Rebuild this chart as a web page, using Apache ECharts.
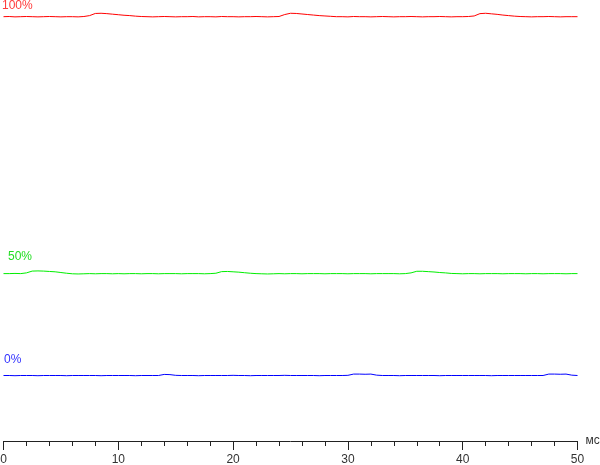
<!DOCTYPE html>
<html>
<head>
<meta charset="utf-8">
<script src="https://cdn.jsdelivr.net/npm/echarts@6/dist/echarts.min.js"></script>
<style>html,body{margin:0;padding:0;background:#fff}#c{width:600px;height:465px}</style>
</head>
<body>
<div id="c"></div>
<script>
// time axis in ms, step 0.5
const timeMs = [];
for (let i = 0; i <= 100; i++) timeMs.push(i * 0.5);

const xTicks = [0, 10, 20, 30, 40, 50];
const seriesNames = ['100%', '50%', '0%'];

// relative level (0% line = 0, 100% line = 100)
const red100 = [
 100.0,100.05,99.95,100.0,100.05,100.0,99.95,100.0,100.05,100.0,99.95,100.0,100.0,99.95,100.05,100.3,
 100.9,100.95,100.85,100.7,100.55,100.4,100.3,100.15,100.05,100.0,99.95,100.0,100.05,100.0,99.95,100.0,
 100.0,100.05,99.95,100.0,100.0,99.95,100.05,100.0,100.0,99.95,100.0,100.0,100.05,100.0,99.95,100.0,
 100.05,100.6,100.95,100.9,100.75,100.6,100.45,100.3,100.2,100.1,100.0,100.0,99.95,100.05,100.0,100.0,
 99.95,100.0,100.05,100.0,99.95,100.0,100.0,100.05,100.0,99.95,100.0,100.0,100.05,100.0,99.95,100.0,
 100.0,100.05,100.2,100.85,100.95,100.8,100.65,100.45,100.3,100.15,100.05,100.0,99.95,100.0,100.0,100.05,
 100.0,99.95,100.0,100.0,100.0
];
const green50 = [
 28.4,28.4,28.45,28.4,28.6,29.1,29.15,29.1,29.0,28.9,28.7,28.5,28.35,28.3,28.35,28.4,
 28.35,28.4,28.4,28.35,28.4,28.35,28.4,28.4,28.35,28.4,28.4,28.35,28.4,28.4,28.4,28.35,
 28.4,28.4,28.4,28.35,28.4,28.5,28.95,29.0,28.9,28.8,28.65,28.5,28.4,28.35,28.3,28.35,
 28.4,28.35,28.4,28.4,28.35,28.4,28.4,28.4,28.35,28.4,28.4,28.4,28.35,28.4,28.4,28.4,
 28.35,28.4,28.4,28.4,28.4,28.35,28.4,28.6,29.05,29.05,28.95,28.85,28.7,28.6,28.45,28.4,
 28.35,28.4,28.4,28.35,28.4,28.4,28.4,28.35,28.4,28.4,28.4,28.35,28.4,28.4,28.35,28.4,
 28.4,28.4,28.35,28.4,28.4
];
const blue0 = [
 0.0,0.0,-0.05,0.0,0.0,0.0,-0.05,0.0,0.0,0.0,0.0,-0.05,0.0,0.0,0.0,0.0,
 0.0,-0.05,0.0,0.0,0.0,0.0,0.0,-0.05,0.0,0.0,0.0,0.0,0.3,0.25,0.05,0.0,
 0.0,0.0,-0.05,0.0,0.0,0.0,0.0,0.0,0.05,0.0,0.0,-0.05,0.0,0.0,0.0,0.0,
 0.0,0.05,0.0,0.0,0.0,0.0,0.0,-0.05,0.0,0.0,0.0,0.0,0.05,0.4,0.4,0.35,
 0.4,0.1,0.0,0.0,0.0,-0.05,0.0,0.0,0.0,0.0,0.0,0.0,-0.05,0.0,0.0,0.0,
 0.0,0.0,0.0,0.0,0.0,-0.05,0.0,0.0,0.0,0.0,0.0,0.0,0.0,0.0,0.0,0.4,
 0.4,0.35,0.4,0.1,0.0
];

const pair = arr => timeMs.map((t, i) => [t, arr[i]]);
const font = 'Liberation Sans, Arial, sans-serif';

const chart = echarts.init(document.getElementById('c'), null, {renderer: 'canvas'});
chart.setOption({
  animation: false,
  backgroundColor: '#fff',
  grid: {left: 3.5, right: 22.5, top: 0, bottom: 24, containLabel: false, outerBoundsMode: 'none'},
  xAxis: {
    type: 'value', min: xTicks[0], max: xTicks[xTicks.length - 1], interval: 10,
    name: 'мс', nameLocation: 'end', nameGap: 8,
    nameTextStyle: {color: '#333', fontFamily: font, fontSize: 12, verticalAlign: 'middle'},
    axisLine: {show: true, onZero: false, lineStyle: {color: '#222', width: 1}},
    axisTick: {show: true, length: 9, lineStyle: {color: '#222'}},
    minorTick: {show: true, splitNumber: 5, length: 5, lineStyle: {color: '#222'}},
    axisLabel: {color: '#333', fontFamily: font, fontSize: 12, margin: 13},
    splitLine: {show: false}
  },
  yAxis: {type: 'value', min: -18.25, max: 104.65, show: false, splitLine: {show: false}},
  series: [
    {name: seriesNames[0], type: 'line', data: pair(red100), showSymbol: false, symbol: 'none',
     lineStyle: {color: '#ff0000', width: 1}, itemStyle: {color: '#ff0000'}},
    {name: seriesNames[1], type: 'line', data: pair(green50), showSymbol: false, symbol: 'none',
     lineStyle: {color: '#00ee00', width: 1}, itemStyle: {color: '#00ee00'}},
    {name: seriesNames[2], type: 'line', data: pair(blue0), showSymbol: false, symbol: 'none',
     lineStyle: {color: '#0000ff', width: 1}, itemStyle: {color: '#0000ff'}}
  ],
  graphic: [
    {type: 'text', left: 2, top: 0, style: {text: seriesNames[0], fill: '#ff3b3b', font: '12px ' + font}},
    {type: 'text', left: 8, top: 251, style: {text: seriesNames[1], fill: '#22dd22', font: '12px ' + font}},
    {type: 'text', left: 4, top: 354, style: {text: seriesNames[2], fill: '#3333ff', font: '12px ' + font}}
  ]
});
</script>
</body>
</html>
